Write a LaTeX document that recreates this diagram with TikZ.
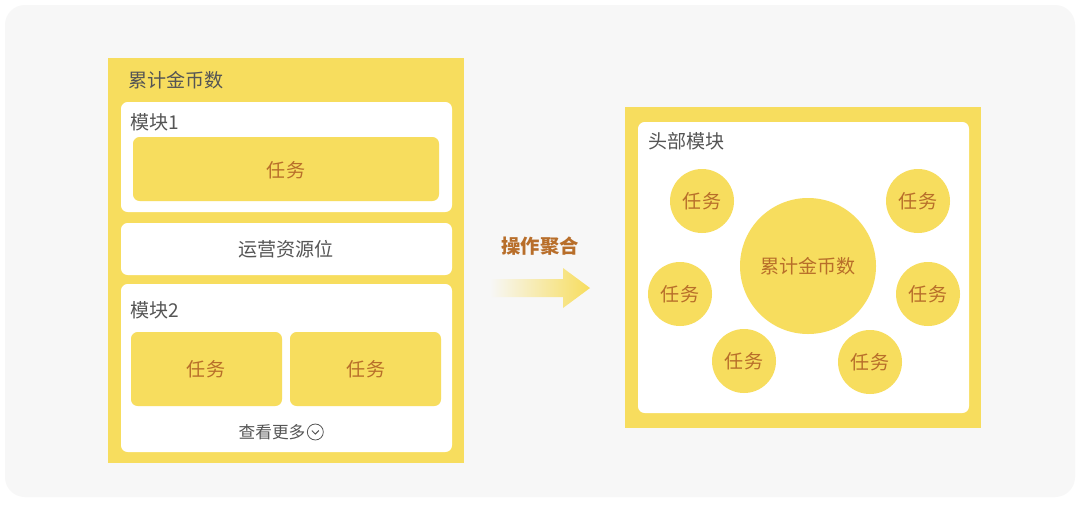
\documentclass[tikz,border=0pt]{standalone}
\usepackage{fontspec}
\setmainfont{Noto Sans CJK SC}
\definecolor{ylw}{HTML}{F7DD5E}
\definecolor{bgc}{HTML}{F7F7F7}
\definecolor{ttl}{HTML}{555555}
\definecolor{tsk}{HTML}{B86E2A}
\tikzset{
 panel/.style={fill=ylw,draw=none},
 wbox/.style={fill=white,draw=none,rounded corners=5pt},
 ybox/.style={fill=ylw,draw=none,rounded corners=5pt},
 ttlt/.style={text=ttl,font=\fontsize{14.3}{16}\selectfont,anchor=west,inner sep=0},
 tskt/.style={text=tsk,font=\fontsize{14.3}{16}\selectfont,inner sep=0},
 sc/.style={circle,fill=ylw,minimum size=48pt,inner sep=0,text=tsk,font=\fontsize{14.3}{16}\selectfont},
}
\begin{document}
\begin{tikzpicture}[x=0.75pt,y=-0.75pt]
\useasboundingbox (0,0) rectangle (1080,504);
\fill[white] (0,0) rectangle (1080,504);
\fill[bgc,rounded corners=15pt] (5,5) rectangle (1075,497);
% left panel
\fill[panel] (108,58) rectangle (464,463);
\node[ttlt] (t0) at (128,80) {累计金币数};
\fill[wbox] (121,102) rectangle (452,212);
\node[ttlt] (m1) at (130,122) {模块1};
\fill[ybox] (133,137) rectangle (439,201);
\node[tskt] (k1) at (286,170) {任务};
\fill[wbox] (121,223) rectangle (452,275);
\node[tskt,text=ttl] (op) at (286,249) {运营资源位};
\fill[wbox] (121,284) rectangle (452,452);
\node[ttlt] (m2) at (130,310) {模块2};
\fill[ybox] (131,332) rectangle (282,406);
\fill[ybox] (290,332) rectangle (441,406);
\node[tskt] (k2) at (206,369) {任务};
\node[tskt] (k3) at (366,369) {任务};
\node[text=ttl,font=\fontsize{12.5}{14}\selectfont,inner sep=0] (more) at (272,432) {查看更多};
\node[circle,draw=ttl,line width=0.6pt,minimum size=12pt,inner sep=0,anchor=west] (cv) at ([xshift=1pt]more.east) {};
\draw[ttl,line width=0.7pt] ([shift={(-3.5,-1.5)}]cv.center) -- ([shift={(0,2)}]cv.center) -- ([shift={(3.5,-1.5)}]cv.center);
% arrow
\shade[left color=bgc,right color=ylw] (490,279) -- (563,279) -- (563,268) -- (590,288) -- (563,308) -- (563,297) -- (490,297) -- cycle;
\node[text=tsk,font=\bfseries\fontsize{14.5}{16}\selectfont,inner sep=0] (agg) at (540,246) {操作聚合};
% right panel
\fill[panel] (625,107) rectangle (981,428);
\fill[wbox] (638,122) rectangle (969,413);
\node[ttlt] (hd) at (648,141) {头部模块};
\node[circle,fill=ylw,minimum size=102pt,inner sep=0,text=tsk,font=\fontsize{14.3}{16}\selectfont] (big) at (808,266) {累计金币数};
\node[sc] (c1) at (702,201) {任务};
\node[sc] (c2) at (918,201) {任务};
\node[sc] (c3) at (680,294) {任务};
\node[sc] (c4) at (928,294) {任务};
\node[sc] (c5) at (744,361) {任务};
\node[sc] (c6) at (870,362) {任务};
\end{tikzpicture}
\end{document}
